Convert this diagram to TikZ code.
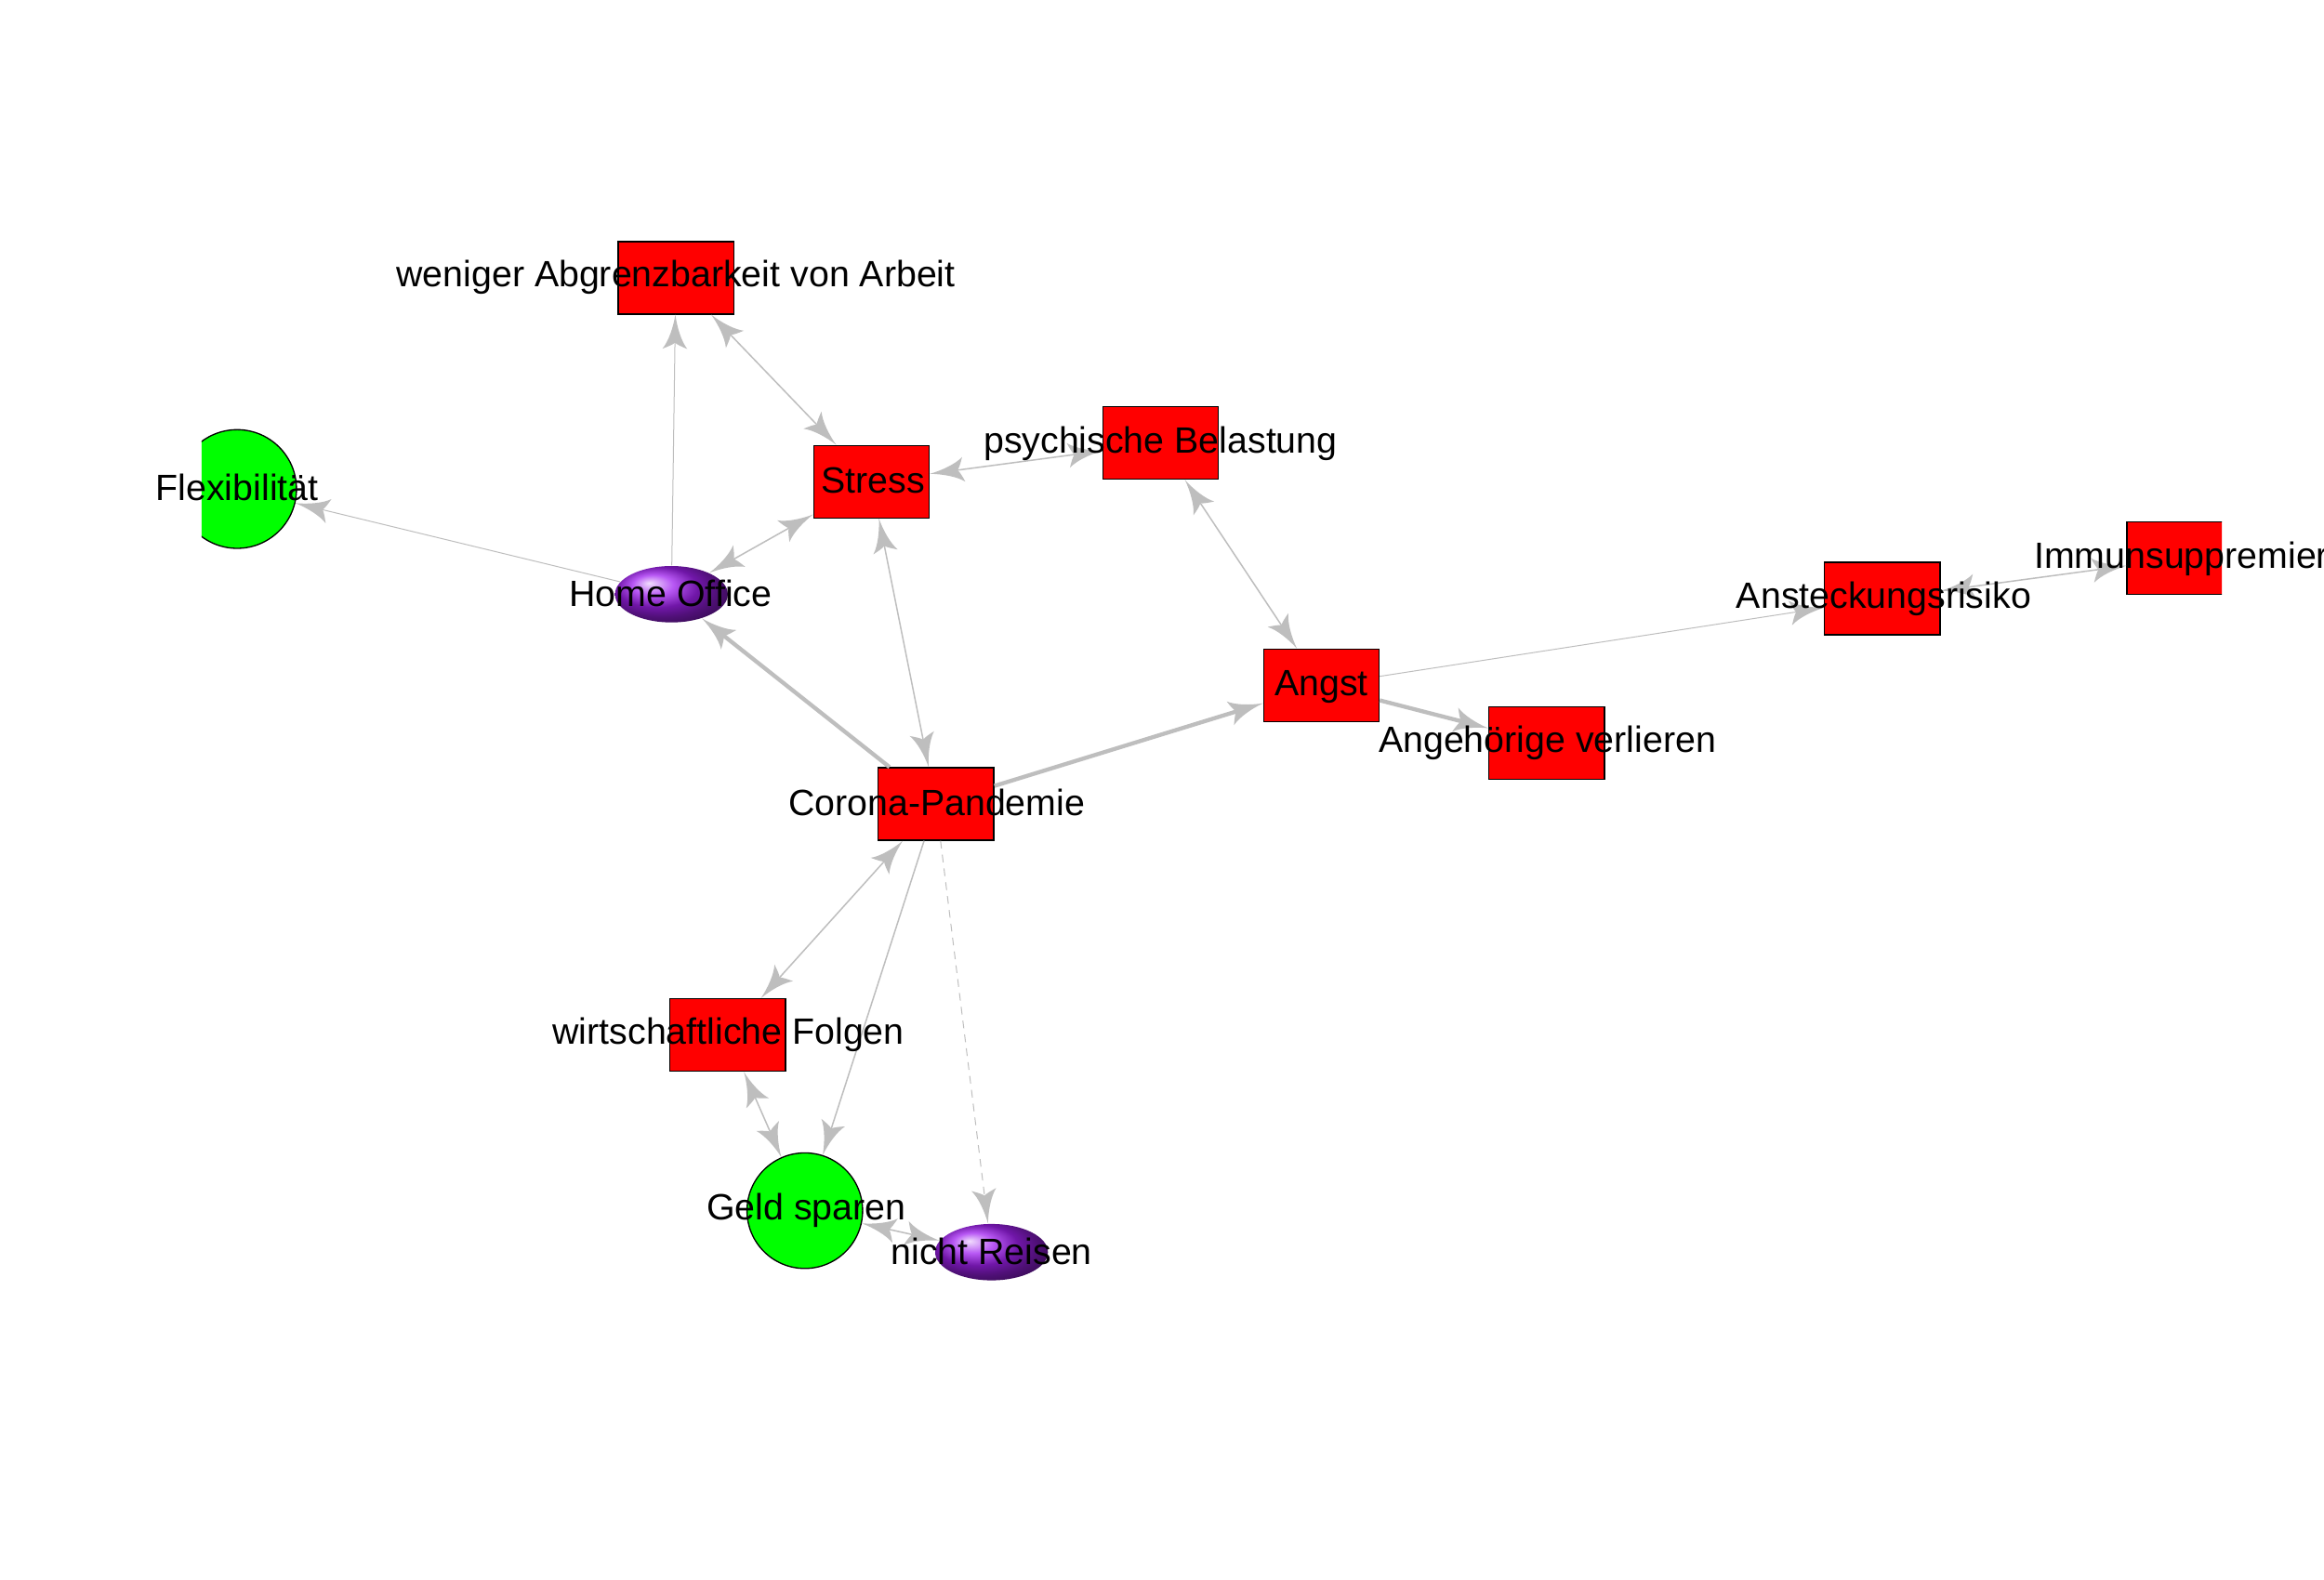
\documentclass[tikz,border=0pt]{standalone}
\usepackage{fontspec}
\setmainfont{Liberation Sans}
\usetikzlibrary{arrows.meta,shapes.geometric}
\definecolor{edgegray}{HTML}{BEBEBE}
\definecolor{rpurple}{HTML}{A020F0}
\definecolor{rgreen}{HTML}{00FF00}
\definecolor{rred}{HTML}{FF0000}
\pgfdeclarearrow{
  name = igr,
  setup code = {
    \pgfarrowssettipend{0pt}
    \pgfarrowssetlineend{-7pt}
    \pgfarrowssetbackend{-11pt}
    \pgfarrowsupperhullpoint{-11pt}{4pt}
  },
  drawing code = {
    \pgfpathmoveto{\pgfpoint{0pt}{0pt}}
    \pgfpathcurveto{\pgfpoint{-4pt}{0.6pt}}{\pgfpoint{-8.5pt}{2pt}}{\pgfpoint{-11pt}{4pt}}
    \pgfpathcurveto{\pgfpoint{-10.3pt}{2.2pt}}{\pgfpoint{-9.6pt}{0.6pt}}{\pgfpoint{-9pt}{0pt}}
    \pgfpathcurveto{\pgfpoint{-9.6pt}{-0.6pt}}{\pgfpoint{-10.3pt}{-2.2pt}}{\pgfpoint{-11pt}{-4pt}}
    \pgfpathcurveto{\pgfpoint{-8.5pt}{-2pt}}{\pgfpoint{-4pt}{-0.6pt}}{\pgfpoint{0pt}{0pt}}
    \pgfpathclose
    \pgfusepathqfill
  }
}
\tikzset{
  redbox/.style={rectangle, draw=black, line width=0.4pt, fill=rred, minimum width=37.3pt, minimum height=23.4pt, inner sep=0pt},
  greencirc/.style={circle, draw=black, line width=0.4pt, fill=rgreen, inner sep=0pt},
  purpball/.style={ellipse, ball color=rpurple, minimum width=36.4pt, minimum height=18.2pt, inner sep=0pt},
  lbl/.style={font=\fontsize{11.8pt}{14pt}\selectfont, text height=0.716em, text depth=0pt, inner sep=0pt},
  edg/.style={draw=edgegray, line width=0.45pt},
  edgthin/.style={draw=edgegray, line width=0.3pt},
  edgthick/.style={draw=edgegray, line width=1.3pt},
  >=igr
}
\begin{document}
\begin{tikzpicture}[x=0.4783pt,y=-0.4783pt]
\useasboundingbox (0,0) rectangle (1568,1066.24);
\fill[white] (0,0) rectangle (1568,1066.24);
\begin{scope}
  \clip (136,0) rectangle (1499,1066.24);
  \node[redbox] (abg) at (456,187.5) {};
  \node[redbox] (stress) at (588,325) {};
  \node[redbox] (psych) at (783,299) {};
  \node[greencirc, minimum size=38.3pt] (flex) at (160,330) {};
  \node[purpball] (ho) at (453,401) {};
  \node[redbox] (angst) at (891.5,462.5) {};
  \node[redbox] (angeh) at (1043.5,501.5) {};
  \node[redbox] (anst) at (1270,404) {};
  \node[redbox] (immun) at (1474,376.5) {};
  \node[redbox] (corona) at (631.5,542.5) {};
  \node[redbox] (wirt) at (491,698.5) {};
  \node[greencirc, minimum size=37.3pt] (geld) at (543,817) {};
  \node[purpball] (reisen) at (669,845) {};
\end{scope}
% edges
\draw[edgthin,->] (ho) -- (abg);
\draw[edg,<->] (abg) -- (stress);
\draw[edg,<->] (stress) -- (psych);
\draw[edgthin,->] (ho) -- (flex);
\draw[edg,<->] (stress) -- (ho);
\draw[edg,<->] (stress) -- (corona);
\draw[edg,<->] (psych) -- (angst);
\draw[edgthin,->] (angst) -- (anst);
\draw[edg,<->] (anst) -- (immun);
\draw[edgthick,->] (angst) -- (angeh);
\draw[edgthick,->] (corona) -- (angst);
\draw[edgthick,->] (corona) -- (ho);
\draw[edg,<->] (corona) -- (wirt);
\draw[edg,->] (corona) -- (geld);
\draw[edgthin,->,dash pattern=on 2.5pt off 2pt] (corona) -- (reisen);
\draw[edg,<->] (wirt) -- (geld);
\draw[edg,<->] (geld) -- (reisen);
% labels
\node[lbl] (labg) at (456,186) {weniger Abgrenzbarkeit von Arbeit};
\node[lbl] (lstress) at (589,325) {Stress};
\node[lbl] (lpsych) at (783,298) {psychische Belastung};
\node[lbl] (lflex) at (160,330) {Flexibilität};
\node[lbl] (lho) at (452.5,402) {Home Office};
\node[lbl] (langst) at (891.5,462) {Angst};
\node[lbl] (langeh) at (1044,500) {Angehörige verlieren};
\node[lbl] (lanst) at (1271,403) {Ansteckungsrisiko};
\node[lbl, anchor=west] (limmun) at (1372,376) {Immunsuppremier};
\node[lbl] (lcorona) at (632,543) {Corona-Pandemie};
\node[lbl] (lwirt) at (491.5,697) {wirtschaftliche Folgen};
\node[lbl] (lgeld) at (544,816) {Geld sparen};
\node[lbl] (lreisen) at (669,846) {nicht Reisen};
\end{tikzpicture}
\end{document}
